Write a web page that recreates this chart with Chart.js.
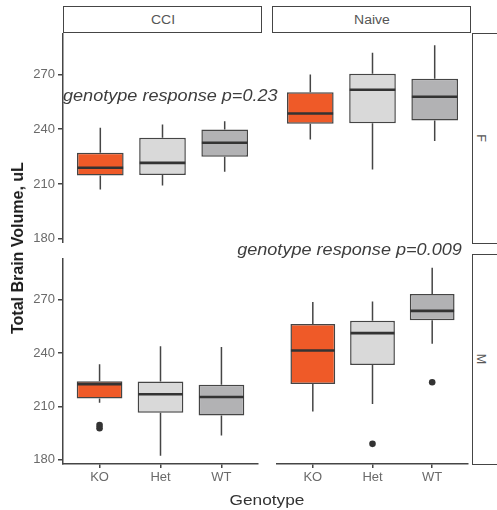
<!DOCTYPE html>
<html>
<head>
<meta charset="utf-8">
<script src="https://cdn.jsdelivr.net/npm/chart.js@4.4.1/dist/chart.umd.min.js"></script>
<style>
  html, body { margin:0; padding:0; background:#fff; }
  body { width:497px; height:510px; position:relative; overflow:hidden; font-family:'Liberation Sans', Arial, sans-serif; }
  canvas { position:absolute; }
  .strip { position:absolute; box-sizing:border-box; border:1.5px solid #454545; background:#fff; }
  .stripText { position:absolute; font-size:12.5px; color:#555; white-space:nowrap; line-height:1; }
  .txt { position:absolute; white-space:nowrap; line-height:1; }
</style>
</head>
<body>
<canvas id="cTL" width="262" height="210" style="left:0;top:33px"></canvas>
<canvas id="cTR" width="199" height="210" style="left:273px;top:33px"></canvas>
<canvas id="cBL" width="262" height="239" style="left:0;top:255px"></canvas>
<canvas id="cBR" width="199" height="239" style="left:273px;top:255px"></canvas>

<div class="strip" style="left:63px;top:6px;width:199px;height:27px;"></div>
<div class="stripText" style="left:162.5px;top:19.5px;transform:translate(-50%,-50%) scaleX(1.12);">CCI</div>
<div class="strip" style="left:272px;top:6px;width:199px;height:27px;"></div>
<div class="stripText" style="left:371.5px;top:19.5px;transform:translate(-50%,-50%) scaleX(1.12);">Naive</div>
<div class="strip" style="left:472px;top:33px;width:40px;height:211px;"></div>
<div class="stripText" style="left:481px;top:138px;transform:translate(-50%,-50%) rotate(90deg);">F</div>
<div class="strip" style="left:472px;top:254px;width:40px;height:211px;"></div>
<div class="stripText" style="left:481px;top:359px;transform:translate(-50%,-50%) rotate(90deg);">M</div>

<div class="txt" style="left:18px;top:248px;transform:translate(-50%,-50%) rotate(-90deg);font-weight:bold;font-size:16px;color:#1a1a1a;">Total Brain Volume, uL</div>
<div class="txt" style="left:267px;top:499px;transform:translate(-50%,-50%) scaleX(1.15);font-size:15px;color:#333;">Genotype</div>
<div class="txt" style="left:63px;top:95.5px;transform:translateY(-50%) scaleX(1.13);transform-origin:left center;font-style:italic;font-size:16px;color:#3d3d3d;">genotype response p=0.23</div>
<div class="txt" style="right:35px;top:250px;transform:translateY(-50%) scaleX(1.13);transform-origin:right center;font-style:italic;font-size:16px;color:#3d3d3d;">genotype response p=0.009</div>

<script>
// ---- data ----
const genotypes = ['KO', 'Het', 'WT'];
const genotypePos = [1, 2, 3];
const yTicks = [180, 210, 240, 270];
const fillColors = ['#EF5A28', '#D9D9D9', '#B2B2B4'];

// [lower whisker, Q1, median, Q3, upper whisker]
const cciF_KO   = [207.0, 214.7, 218.9, 227.1, 240.8];
const cciF_Het  = [209.2, 214.9, 221.6, 235.3, 242.6];
const cciF_WT   = [216.7, 224.9, 232.6, 239.9, 244.4];
const naiveF_KO  = [234.4, 243.0, 248.6, 260.3, 270.0];
const naiveF_Het = [218.0, 243.3, 261.6, 270.4, 281.9];
const naiveF_WT  = [233.5, 244.8, 257.8, 267.6, 286.0];
const cciM_KO   = [212.0, 214.4, 222.5, 224.1, 233.7];
const cciM_Het  = [182.3, 206.5, 216.8, 224.0, 243.8];
const cciM_WT   = [193.7, 204.9, 215.3, 222.1, 243.4];
const naiveM_KO  = [207.1, 222.6, 241.4, 256.2, 268.6];
const naiveM_Het = [211.3, 233.3, 251.1, 258.1, 268.9];
const naiveM_WT  = [245.1, 258.4, 263.6, 273.1, 287.8];

// outliers per genotype
const cciF_out   = [[], [], []];
const naiveF_out = [[], [], []];
const cciM_out   = [[199.6, 197.8], [], []];
const naiveM_out = [[], [189.0], [223.6]];

const Y_MIN = 177.7, Y_MAX = 292.7;
const X_MIN = 0.4, X_MAX = 3.6;
const LINE = '#454545';

function boxPlugin(stats) {
  return {
    id: 'boxWhisker',
    beforeDatasetsDraw(chart) {
      const ctx = chart.ctx, ys = chart.scales.y, xs = chart.scales.x;
      ctx.save();
      ctx.strokeStyle = LINE; ctx.lineWidth = 1.5;
      stats.forEach((s, i) => {
        const x = xs.getPixelForValue(genotypePos[i]);
        ctx.beginPath();
        ctx.moveTo(x, ys.getPixelForValue(s[0])); ctx.lineTo(x, ys.getPixelForValue(s[1]));
        ctx.moveTo(x, ys.getPixelForValue(s[3])); ctx.lineTo(x, ys.getPixelForValue(s[4]));
        ctx.stroke();
      });
      ctx.restore();
    },
    afterDatasetsDraw(chart) {
      const ctx = chart.ctx, ys = chart.scales.y;
      const meta = chart.getDatasetMeta(0);
      ctx.save();
      ctx.strokeStyle = '#333'; ctx.lineWidth = 2.6;
      stats.forEach((s, i) => {
        const bar = meta.data[i];
        const y = ys.getPixelForValue(s[2]);
        ctx.beginPath();
        ctx.moveTo(bar.x - bar.width / 2 + 0.5, y); ctx.lineTo(bar.x + bar.width / 2 - 0.5, y);
        ctx.stroke();
      });
      ctx.restore();
    }
  };
}

function makeChart(id, stats, outs, showY, showX) {
  const boxData = stats.map((s, i) => ({ x: genotypePos[i], y: [s[1], s[3]] }));
  const outData = [];
  outs.forEach((arr, i) => arr.forEach(v => outData.push({ x: genotypePos[i], y: v })));
  return new Chart(document.getElementById(id), {
    type: 'bar',
    data: {
      datasets: [
        {
          type: 'bar', data: boxData,
          backgroundColor: fillColors, borderColor: LINE, borderWidth: 1.5,
          borderSkipped: false, categoryPercentage: 0.75, barPercentage: 1.0
        },
        {
          type: 'scatter', data: outData,
          pointRadius: 3.3, pointBackgroundColor: '#333', pointBorderWidth: 0, showLine: false
        }
      ]
    },
    options: {
      responsive: false, animation: false, devicePixelRatio: 1,
      layout: { padding: 0 },
      plugins: { legend: { display: false }, tooltip: { enabled: false } },
      scales: {
        x: {
          type: 'linear', min: X_MIN, max: X_MAX, offset: false, display: showX,
          afterBuildTicks: s => { s.ticks = genotypePos.map(v => ({ value: v })); },
          afterFit: s => { if (showX) s.height = 30; s.paddingLeft = 0; s.paddingRight = 0; },
          ticks: {
            callback: v => genotypes[genotypePos.indexOf(v)],
            font: { size: 13, family: "'Liberation Sans', Arial, sans-serif" },
            color: '#6a6a6a', padding: 2, autoSkip: false, maxRotation: 0
          },
          grid: { display: true, drawOnChartArea: false, drawTicks: true, tickLength: 4, color: LINE, lineWidth: 1.5, offset: false },
          border: { display: true, color: LINE, width: 1.5 }
        },
        y: {
          type: 'linear', min: Y_MIN, max: Y_MAX, display: showY,
          afterBuildTicks: s => { s.ticks = yTicks.map(v => ({ value: v })); },
          afterFit: s => { if (showY) s.width = 63; s.paddingTop = 0; s.paddingBottom = 0; },
          ticks: {
            font: { size: 13, family: "'Liberation Sans', Arial, sans-serif" },
            color: '#6a6a6a', padding: 3
          },
          grid: { display: true, drawOnChartArea: false, drawTicks: true, tickLength: 5, color: LINE, lineWidth: 1.5 },
          border: { display: true, color: LINE, width: 1.5 }
        }
      }
    },
    plugins: [boxPlugin(stats)]
  });
}

makeChart('cTL', [cciF_KO, cciF_Het, cciF_WT], cciF_out, true, false);
makeChart('cTR', [naiveF_KO, naiveF_Het, naiveF_WT], naiveF_out, false, false);
makeChart('cBL', [cciM_KO, cciM_Het, cciM_WT], cciM_out, true, true);
makeChart('cBR', [naiveM_KO, naiveM_Het, naiveM_WT], naiveM_out, false, true);
</script>
</body>
</html>
